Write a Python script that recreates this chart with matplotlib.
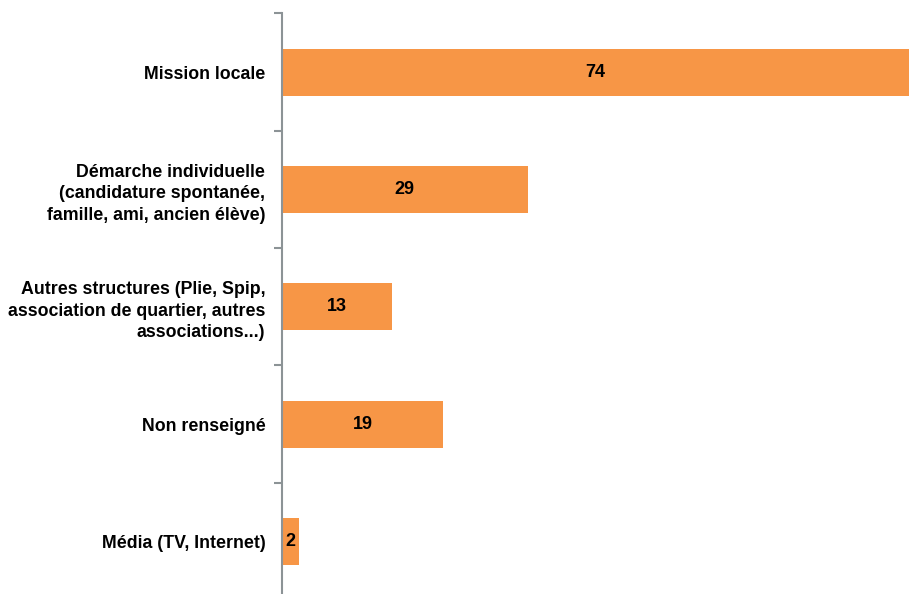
import matplotlib
matplotlib.use("Agg")
import matplotlib.pyplot as plt
import numpy as np

categories = [
    "Mission locale",
    "Démarche individuelle\n(candidature spontanée,\nfamille, ami, ancien élève)",
    "Autres structures (Plie, Spip,\nassociation de quartier, autres\nassociations...)",
    "Non renseigné",
    "Média (TV, Internet)",
]
values = [74, 29, 13, 19, 2]

plt.rcParams['font.family'] = ['Liberation Sans', 'DejaVu Sans']

fig = plt.figure(figsize=(9.09, 5.94), dpi=100)
ax = fig.add_axes([282/909, -6/594, 1 - 282/909, 586.5/594])

n = len(categories)
pos = np.arange(n)
ax.barh(pos, values, height=0.4, color='#F79646', edgecolor='none')
ax.set_xlim(0, 74)
ax.set_ylim(n - 0.5, -0.5)

for p, v in zip(pos, values):
    ax.text(v / 2, p, str(v), ha='center', va='center', fontsize=13, fontweight='bold', color='black')

for s in ['top', 'right', 'bottom']:
    ax.spines[s].set_visible(False)
ax.spines['left'].set_color('#8C9396')
ax.spines['left'].set_linewidth(1.5)
ax.set_xticks([])

ax.set_yticks(np.arange(-0.5, n, 1.0))
ax.set_yticklabels([])
ax.tick_params(axis='y', which='major', direction='out', length=6, width=1.5, color='#8C9396')
ax.set_yticks(pos, minor=True)
ax.set_yticklabels(categories, minor=True, fontsize=12.8, fontweight='bold', ha='right', multialignment='right', linespacing=1.35)
ax.tick_params(axis='y', which='minor', length=0, pad=12)

fig.savefig('out.png', dpi=100)
